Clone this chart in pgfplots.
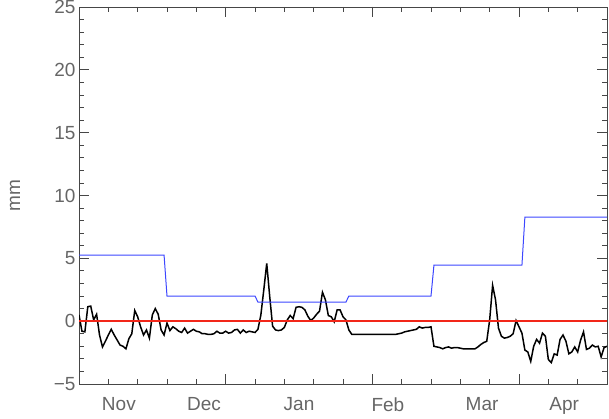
\documentclass[border=0pt]{standalone}
\usepackage{fontspec}
\setmainfont{Liberation Sans}
\usepackage{pgfplots}
\pgfplotsset{compat=1.18}
\newcommand\bigfont{\fontsize{19}{22}\selectfont}
\definecolor{myblue}{RGB}{60,70,255}
\definecolor{myred}{rgb}{0.95,0.15,0.1}
\definecolor{axgray}{RGB}{70,70,70}
\begin{document}
\begin{tikzpicture}[x=1pt,y=1pt]
\useasboundingbox (0,0) rectangle (609,419);
\begin{axis}[
 at={(79pt,35pt)}, anchor=south west,
 scale only axis, width=528pt, height=377pt,
 xmin=0,xmax=180,ymin=-5,ymax=25,
 axis line style={axgray, line width=0.8pt},
 tick style={axgray, line width=0.8pt},
 tick align=inside,
 xtick={0,50,100,150}, xticklabels={},
 minor xtick={10,20,...,170},
 major tick length=10pt, minor tick length=5pt,
 extra x ticks={13.6,42.6,75,105.3,137.4,165.4},
 extra x tick labels={Nov,Dec,Jan,Feb,Mar,Apr},
 extra x tick style={major tick length=0pt},
 ytick={-5,0,5,10,15,20,25}, yticklabels={−5,0,5,10,15,20,25},
 minor ytick={-4,-3,...,24},
 ticklabel style={font=\bigfont, text=black!60},
 xticklabel style={yshift=-10pt},
 ylabel={mm}, ylabel style={font=\bigfont, text=black!60, at={(axis description cs:-0.121,0.5)}, anchor=center},
 clip=true,
]
\addplot[draw=black, line width=1.5pt] coordinates {
(0,0.5)(1,-0.8)(2,-0.85)(3,1.15)(4,1.2)(5,0.1)(6,0.55)(7,-1.1)(8,-2.05)(9,-1.6)
(10,-1.1)(11,-0.65)(12,-1.1)(13,-1.5)(14,-1.9)(15,-2.0)(16,-2.2)(17,-1.4)(18,-1.0)(19,0.85)
(20,0.35)(21,-0.45)(22,-1.1)(23,-0.7)(24,-1.35)(25,0.5)(26,1.0)(27,0.55)(28,-0.7)(29,-1.1)
(30,-0.15)(31,-0.75)(32,-0.45)(33,-0.6)(34,-0.8)(35,-0.9)(36,-0.55)(37,-0.95)(38,-0.8)(39,-0.65)
(40,-0.8)(41,-0.85)(42,-1.0)(43,-1.0)(44,-1.05)(45,-1.05)(46,-1.0)(47,-0.8)(48,-0.95)(49,-0.95)
(50,-0.8)(51,-0.95)(52,-0.9)(53,-0.7)(54,-0.65)(55,-0.95)(56,-0.7)(57,-0.9)(58,-0.8)(59,-0.85)
(60,-0.9)(61,-0.65)(62,0.5)(63,2.5)(64,4.6)(65,2.0)(66,-0.4)(67,-0.7)(68,-0.75)(69,-0.7)
(70,-0.5)(71,0.1)(72,0.45)(73,0.2)(74,1.1)(75,1.15)(76,1.1)(77,0.9)(78,0.4)(79,0.05)
(80,0.25)(81,0.55)(82,0.8)(83,2.3)(84,1.7)(85,0.45)(86,0.35)(87,-0.05)(88,0.9)(89,0.9)
(90,0.35)(91,0.1)(92,-0.7)(93,-1.05)(94,-1.05)(95,-1.05)(96,-1.05)(97,-1.05)(98,-1.05)(99,-1.05)
(100,-1.05)(101,-1.05)(102,-1.05)(103,-1.05)(104,-1.05)(105,-1.05)(106,-1.05)(107,-1.05)(108,-1.05)(109,-1.0)
(110,-0.95)(111,-0.85)(112,-0.8)(113,-0.75)(114,-0.7)(115,-0.65)(116,-0.45)(117,-0.55)(118,-0.5)(119,-0.5)
(120,-0.45)(121,-2.0)(122,-2.05)(123,-2.1)(124,-2.2)(125,-2.1)(126,-2.05)(127,-2.15)(128,-2.1)(129,-2.1)
(130,-2.15)(131,-2.2)(132,-2.2)(133,-2.2)(134,-2.2)(135,-2.2)(136,-2.05)(137,-1.85)(138,-1.7)(139,-1.6)
(140,0.1)(141,2.85)(142,1.7)(143,-0.55)(144,-1.2)(145,-1.35)(146,-1.3)(147,-1.2)(148,-1.0)(149,0.05)
(150,-0.45)(151,-0.95)(152,-2.3)(153,-2.45)(154,-3.2)(155,-2.0)(156,-1.45)(157,-1.75)(158,-0.95)(159,-1.2)
(160,-3.05)(161,-3.3)(162,-2.6)(163,-2.7)(164,-1.45)(165,-1.1)(166,-1.6)(167,-2.6)(168,-2.45)(169,-2.05)
(170,-2.45)(171,-1.5)(172,-0.85)(173,-2.25)(174,-2.15)(175,-1.9)(176,-2.05)(177,-2.0)(178,-2.85)(179,-2.1)
(180,-2.0)
};
\addplot[draw=myblue, line width=1pt] coordinates {
(0,5.25)(29,5.25)(30,2.0)(60,2.0)(61,1.52)(91,1.52)(92,2.0)(120,2.0)(121,4.45)(151,4.45)(152,8.27)(181,8.27)
};
\addplot[draw=myred, line width=1.3pt] coordinates {(0,0.02)(90,0.02)(180,0.02)};
\end{axis}
\end{tikzpicture}
\end{document}
